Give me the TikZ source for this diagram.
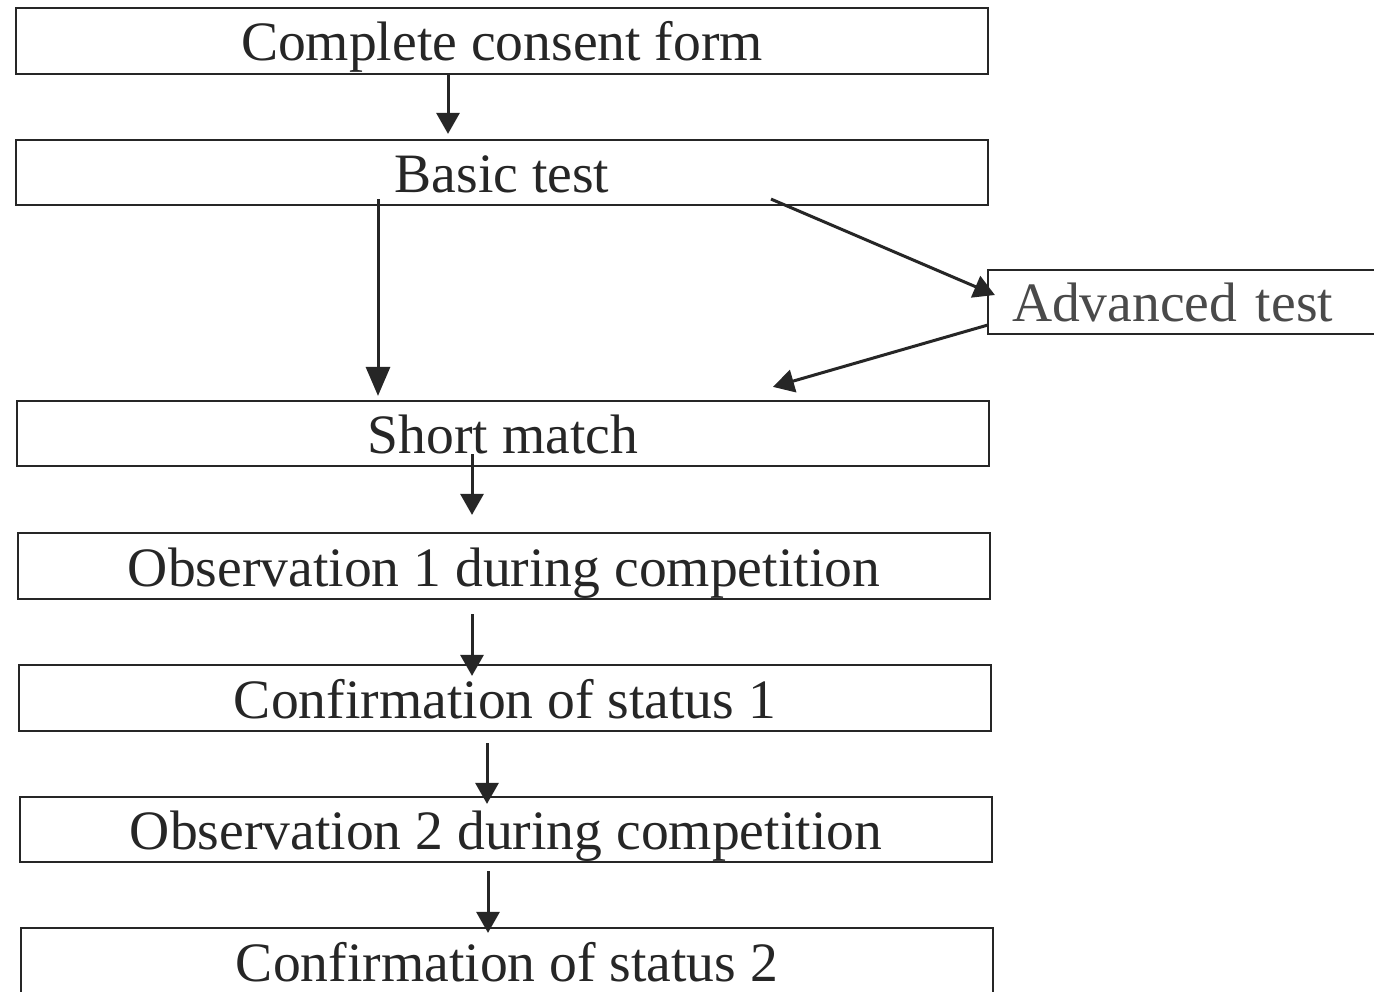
\documentclass[tikz,border=0pt]{standalone}
\usepackage{fontspec}
\setmainfont{Liberation Serif}
\usetikzlibrary{arrows.meta}
\definecolor{ink}{HTML}{262626}
\definecolor{inkgray}{HTML}{4A4A4A}
\tikzset{
  box/.style={draw=ink, line width=2.2pt, inner sep=0pt, text=ink,
    font=\fontsize{55.6}{60}\selectfont, text height=46pt, text depth=6pt},
  arr/.style={draw=ink, line width=3pt, -{Triangle[length=21pt,width=23pt]}},
  longarr/.style={draw=ink, line width=3pt, -{Triangle[length=29pt,width=24pt]}}
}
\begin{document}
\begin{tikzpicture}[x=1pt,y=-1pt]
\useasboundingbox (0,0) rectangle (1374,992);
\fill[white] (0,0) rectangle (1374,992);
\clip (0,0) rectangle (1374,992);
\node[box, minimum width=972pt, minimum height=66pt] (b1) at (502,41) {Complete consent form};
\node[box, minimum width=972pt, minimum height=65pt] (b2) at (502,172.5) {Basic test};
\node[box, minimum height=64pt, text width=364pt, align=left, inner xsep=24pt, text=inkgray] (b3) at (1194,302) {Advanced test};
\node[box, minimum width=972pt, minimum height=65pt] (b4) at (503,433.5) {Short match};
\node[box, minimum width=972pt, minimum height=66pt] (b5) at (504,566) {Observation 1 during competition};
\node[box, minimum width=972pt, minimum height=66pt] (b6) at (505,698) {Confirmation of status 1};
\node[box, minimum width=972pt, minimum height=65pt] (b7) at (506,829.5) {Observation 2 during competition};
\node[box, minimum width=972pt, minimum height=66pt] (b8) at (507,961) {Confirmation of status 2};
\draw[arr] ([xshift=-54pt]b1.south) -- ([shift={(-54pt,5pt)}]b2.north);
\draw[longarr] ([shift={(-124pt,7pt)}]b2.south) -- ([shift={(-125pt,4pt)}]b4.north);
\draw[arr] ([shift={(269pt,7pt)}]b2.south) -- ([shift={(8pt,7pt)}]b3.west);
\draw[arr] ([shift={(1pt,-23pt)}]b3.west) -- ([shift={(270pt,13pt)}]b4.north);
\draw[arr] ([shift={(-31pt,13pt)}]b4.south) -- ([shift={(-32pt,17pt)}]b5.north);
\draw[arr] ([shift={(-32pt,-14pt)}]b5.south) -- ([shift={(-33pt,-12pt)}]b6.north);
\draw[arr] ([shift={(-18pt,-11pt)}]b6.south) -- ([shift={(-19pt,-8pt)}]b7.north);
\draw[arr] ([shift={(-18pt,-8pt)}]b7.south) -- ([shift={(-19pt,-6pt)}]b8.north);
\end{tikzpicture}
\end{document}
